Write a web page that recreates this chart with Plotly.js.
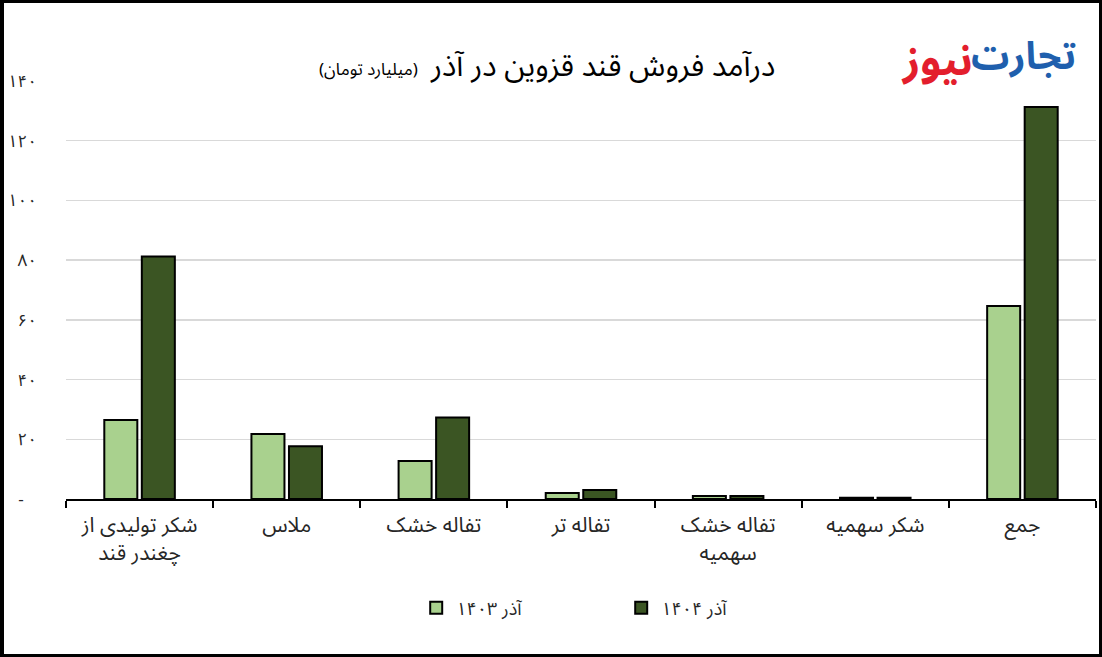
<!DOCTYPE html>
<html>
<head>
<meta charset="utf-8">
<script src="https://cdn.plot.ly/plotly-3.0.1.min.js"></script>
<style>
html,body{margin:0;padding:0;background:#fff;}
#wrap{position:relative;width:1102px;height:657px;}
#chart{width:1102px;height:657px;}
#frame{position:absolute;left:0;top:0;width:1102px;height:657px;box-sizing:border-box;border:3px solid #000;border-left-width:4px;pointer-events:none;}
</style>
</head>
<body>
<div id="wrap"><div id="chart"></div><div id="frame"></div></div>
<script>
var categories = ["شکر تولیدی از<br>چغندر قند", "ملاس", "تفاله خشک", "تفاله تر", "تفاله خشک<br>سهمیه", "شکر سهمیه", "جمع"];
var series1403 = [26.5, 21.8, 12.7, 2.0, 1.0, 0.4, 64.6];
var series1404 = [81.2, 17.7, 27.3, 3.0, 1.0, 0.4, 131.3];
var seriesNames = ["آذر ۱۴۰۳", "آذر ۱۴۰۴"];
var yTickVals = [0, 20, 40, 60, 80, 100, 120, 140];
var yTickText = ["-\u00a0\u00a0\u00a0", "۲۰", "۴۰", "۶۰", "۸۰", "۱۰۰", "۱۲۰", "۱۴۰"];
var titleMain = "درآمد فروش قند قزوین در آذر";
var titleSub = "(میلیارد تومان)";
var logoA = "تجارت";
var logoB = "نیوز";

var FONT = "Noto Sans Arabic, Vazirmatn, DejaVu Sans, Noto Sans, sans-serif";

var traces = [
  {type:"bar", x:categories, y:series1403, name:seriesNames[0],
   marker:{color:"#a9d18e", line:{color:"#000", width:2}}},
  {type:"bar", x:categories, y:series1404, name:seriesNames[1],
   marker:{color:"#3b5523", line:{color:"#000", width:2}}}
];

var layout = {
  width:1102, height:657,
  margin:{l:66, r:6, t:81, b:158},
  paper_bgcolor:"#fff", plot_bgcolor:"#fff",
  font:{family:FONT, color:"#262626"},
  barmode:"group", bargap:0.49, bargroupgap:0.12,
  showlegend:true,
  legend:{orientation:"h", x:0.34, xanchor:"left", y:-0.261, yanchor:"middle",
          font:{size:18, family:FONT, color:"#262626"},
          entrywidth:160, entrywidthmode:"pixels", itemwidth:30},
  xaxis:{type:"category", showgrid:false, showline:true, linecolor:"#000", linewidth:2,
         ticks:"outside", tickson:"boundaries", ticklen:7, tickwidth:2, tickcolor:"#000",
         ticklabelstandoff:6,
         tickfont:{size:21, family:FONT, color:"#262626"}, fixedrange:true},
  yaxis:{range:[0,140], tickvals:yTickVals, ticktext:yTickText, showgrid:true,
         gridcolor:"#d9d9d9", gridwidth:1.5, zeroline:false, showline:false, ticks:"",
         ticklabelstandoff:28, tickfont:{size:17, family:FONT, color:"#262626"}},
  shapes:[
    {type:"rect", xref:"paper", yref:"paper", x0:0.1864, x1:0.793, y0:0.974, y1:1.09,
     fillcolor:"#fff", line:{width:0}, layer:"above"}
  ],
  annotations:[
    {text:titleMain, xref:"paper", yref:"paper", x:0.690, y:1.034, xanchor:"right", yanchor:"middle",
     showarrow:false, font:{size:30, family:FONT, color:"#000"}},
    {text:titleSub, xref:"paper", yref:"paper", x:0.3437, y:1.027, xanchor:"right", yanchor:"middle",
     showarrow:false, font:{size:17, family:FONT, color:"#000"}},
    {text:"<b>"+logoA+"</b>", xref:"paper", yref:"paper", x:0.9825, y:1.057, xanchor:"right", yanchor:"middle",
     showarrow:false, font:{size:38, family:FONT, color:"#1f5fad"}},
    {text:"<b>"+logoB+"</b>", xref:"paper", yref:"paper", x:0.8825, y:1.047, xanchor:"right", yanchor:"middle",
     showarrow:false, font:{size:42, family:FONT, color:"#e31e2d"}}
  ]
};

Plotly.newPlot("chart", traces, layout, {displayModeBar:false, staticPlot:true});
</script>
</body>
</html>
